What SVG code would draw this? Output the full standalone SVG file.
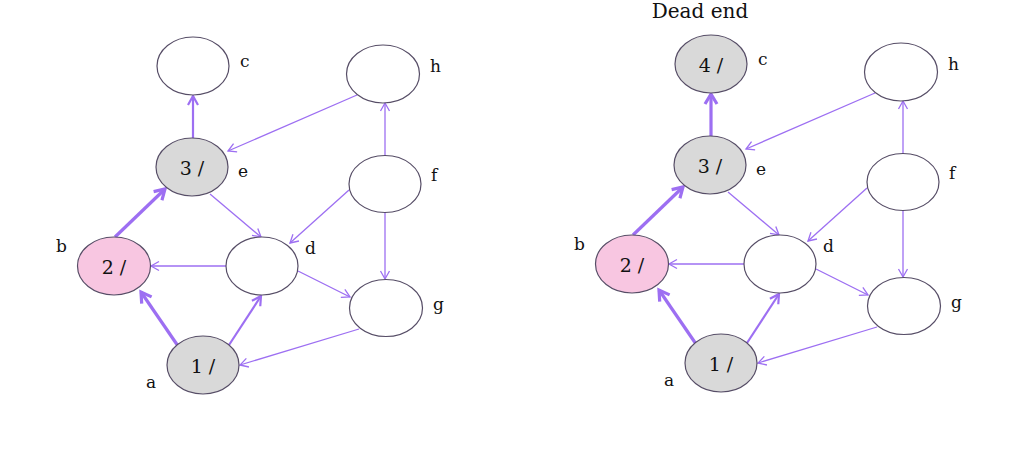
<svg xmlns="http://www.w3.org/2000/svg" width="1023" height="449" viewBox="0 0 1023 449">
<style>
.n{stroke:#564d66;stroke-width:1.2}
.w{fill:#ffffff}
.g{fill:#d9d9d9}
.p{fill:#f8c6e1}
.e{stroke:#9d6ff2;fill:none}
.t1{stroke-width:1.3;marker-end:url(#a1)}
.t2{stroke-width:2.2;marker-end:url(#a2)}
.t3{stroke-width:3.2;marker-end:url(#a3)}
.nt{font-family:"DejaVu Serif","Liberation Serif",serif;font-size:19px;fill:#111;text-anchor:middle}
.lb{font-family:"DejaVu Serif","Liberation Serif",serif;font-size:17px;fill:#111}
.tt{font-family:"DejaVu Serif","Liberation Serif",serif;font-size:20px;fill:#111;text-anchor:middle}
</style>
<defs>
<marker id="a1" markerUnits="userSpaceOnUse" orient="auto" refX="0" refY="0" markerWidth="20" markerHeight="20" overflow="visible"><path d="M-8,-4.5 L0,0 L-8,4.5" fill="none" stroke="#9d6ff2" stroke-width="1.3"/></marker>
<marker id="a2" markerUnits="userSpaceOnUse" orient="auto" refX="0" refY="0" markerWidth="20" markerHeight="20" overflow="visible"><path d="M-9,-5 L0,0 L-9,5" fill="none" stroke="#9d6ff2" stroke-width="2.2"/></marker>
<marker id="a3" markerUnits="userSpaceOnUse" orient="auto" refX="0" refY="0" markerWidth="20" markerHeight="20" overflow="visible"><path d="M-10,-6 L0,0 L-10,6" fill="none" stroke="#9d6ff2" stroke-width="3.2"/></marker>
</defs>
<rect width="1023" height="449" fill="#ffffff"/>

<g id="left-graph">
<g id="left-edges">
<line class="e t2" x1="193" y1="138" x2="193" y2="96"/>
<line class="e t1" x1="357" y1="95" x2="228" y2="151"/>
<line class="e t1" x1="385" y1="156" x2="385" y2="103"/>
<line class="e t1" x1="210" y1="194" x2="261" y2="237"/>
<line class="e t1" x1="349" y1="190" x2="290" y2="243"/>
<line class="e t1" x1="385" y1="213" x2="385" y2="279"/>
<line class="e t1" x1="226" y1="266" x2="151" y2="266"/>
<line class="e t1" x1="298" y1="271" x2="350" y2="297"/>
<line class="e t1" x1="359" y1="329" x2="240" y2="365"/>
<line class="e t3" x1="178" y1="346" x2="141" y2="292"/>
<line class="e t2" x1="229" y1="345" x2="261" y2="296"/>
<line class="e t3" x1="115" y1="237" x2="165" y2="189"/>
</g>
<g id="L-c"><ellipse class="n w" cx="193" cy="66" rx="36" ry="29"/><text class="lb" x="240" y="67">c</text></g>
<g id="L-h"><ellipse class="n w" cx="383" cy="74" rx="36.5" ry="29"/><text class="lb" x="430" y="72">h</text></g>
<g id="L-e"><ellipse class="n g" cx="192" cy="167" rx="36" ry="29"/><text class="nt" x="192" y="175">3 /</text><text class="lb" x="238" y="177">e</text></g>
<g id="L-f"><ellipse class="n w" cx="385" cy="184" rx="36" ry="28.5"/><text class="lb" x="431" y="181">f</text></g>
<g id="L-b"><ellipse class="n p" cx="114" cy="266" rx="36.5" ry="29"/><text class="nt" x="114" y="274">2 /</text><text class="lb" x="56" y="252">b</text></g>
<g id="L-d"><ellipse class="n w" cx="262" cy="266" rx="36" ry="29"/><text class="lb" x="305" y="254">d</text></g>
<g id="L-g"><ellipse class="n w" cx="386" cy="308" rx="36.5" ry="28.5"/><text class="lb" x="433" y="310">g</text></g>
<g id="L-a"><ellipse class="n g" cx="203" cy="365" rx="36" ry="29"/><text class="nt" x="203" y="373">1 /</text><text class="lb" x="146" y="388">a</text></g>
</g>

<text id="title" class="tt" x="700" y="18">Dead end</text>

<g id="right-graph" transform="translate(518,-2)">
<g id="right-edges">
<line class="e t3" x1="193" y1="138" x2="193" y2="96"/>
<line class="e t1" x1="357" y1="95" x2="228" y2="151"/>
<line class="e t1" x1="385" y1="156" x2="385" y2="103"/>
<line class="e t1" x1="210" y1="194" x2="261" y2="237"/>
<line class="e t1" x1="349" y1="190" x2="290" y2="243"/>
<line class="e t1" x1="385" y1="213" x2="385" y2="279"/>
<line class="e t1" x1="226" y1="266" x2="151" y2="266"/>
<line class="e t1" x1="298" y1="271" x2="350" y2="297"/>
<line class="e t1" x1="359" y1="329" x2="240" y2="365"/>
<line class="e t3" x1="178" y1="346" x2="141" y2="292"/>
<line class="e t2" x1="229" y1="345" x2="261" y2="296"/>
<line class="e t3" x1="115" y1="237" x2="165" y2="189"/>
</g>
<g id="R-c"><ellipse class="n g" cx="193" cy="66" rx="36" ry="29"/><text class="nt" x="193" y="74">4 /</text><text class="lb" x="240" y="67">c</text></g>
<g id="R-h"><ellipse class="n w" cx="383" cy="74" rx="36.5" ry="29"/><text class="lb" x="430" y="72">h</text></g>
<g id="R-e"><ellipse class="n g" cx="192" cy="167" rx="36" ry="29"/><text class="nt" x="192" y="175">3 /</text><text class="lb" x="238" y="177">e</text></g>
<g id="R-f"><ellipse class="n w" cx="385" cy="184" rx="36" ry="28.5"/><text class="lb" x="431" y="181">f</text></g>
<g id="R-b"><ellipse class="n p" cx="114" cy="266" rx="36.5" ry="29"/><text class="nt" x="114" y="274">2 /</text><text class="lb" x="56" y="252">b</text></g>
<g id="R-d"><ellipse class="n w" cx="262" cy="266" rx="36" ry="29"/><text class="lb" x="305" y="254">d</text></g>
<g id="R-g"><ellipse class="n w" cx="386" cy="308" rx="36.5" ry="28.5"/><text class="lb" x="433" y="310">g</text></g>
<g id="R-a"><ellipse class="n g" cx="203" cy="365" rx="36" ry="29"/><text class="nt" x="203" y="373">1 /</text><text class="lb" x="146" y="388">a</text></g>
</g>
</svg>
